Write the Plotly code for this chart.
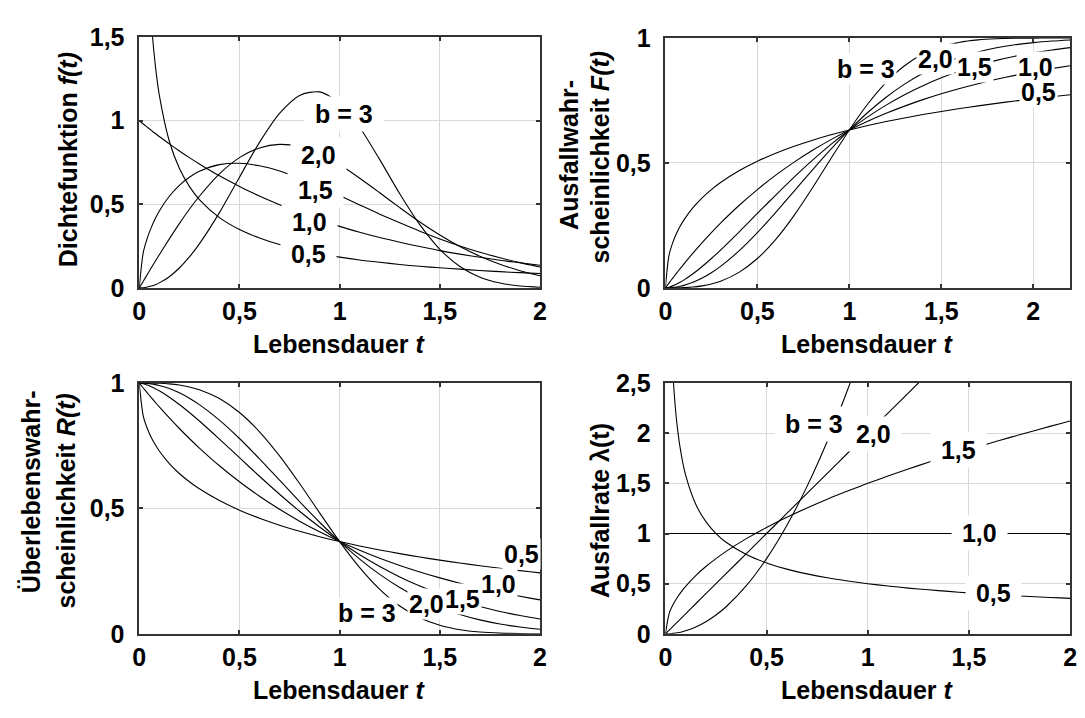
import plotly.graph_objects as go

W, H = 1085, 718
FONT = "Liberation Sans, Arial, sans-serif"

# ---------------- data (Weibull, T = 1) ----------------
T = [0, 0.02, 0.04, 0.06, 0.08, 0.1, 0.15, 0.2, 0.25, 0.3, 0.4, 0.5, 0.6, 0.7,
     0.8, 0.9, 1.0, 1.1, 1.2, 1.3, 1.4, 1.5, 1.6, 1.7, 1.8, 1.9, 2.0, 2.1, 2.2]

# density f(t)
DENS_B05 = [None, 3.069, 2.047, 1.598, 1.332, 1.153, 0.877, 0.715, 0.607, 0.528, 0.420, 0.349, 0.298, 0.259,
            0.229, 0.204, 0.184, 0.167, 0.153, 0.140, 0.129, 0.120, 0.112, 0.104, 0.097, 0.091, 0.086, 0.081, 0.077]
DENS_B10 = [1.0, 0.980, 0.961, 0.942, 0.923, 0.905, 0.861, 0.819, 0.779, 0.741, 0.670, 0.607, 0.549, 0.497,
            0.449, 0.407, 0.368, 0.333, 0.301, 0.273, 0.247, 0.223, 0.202, 0.183, 0.165, 0.150, 0.135, 0.122, 0.111]
DENS_B15 = [0.0, 0.212, 0.298, 0.362, 0.415, 0.460, 0.548, 0.613, 0.662, 0.697, 0.737, 0.745, 0.730, 0.699,
            0.656, 0.606, 0.552, 0.496, 0.441, 0.389, 0.339, 0.293, 0.251, 0.213, 0.180, 0.151, 0.125, 0.104, 0.085]
DENS_B20 = [0.0, 0.040, 0.080, 0.120, 0.159, 0.198, 0.293, 0.384, 0.470, 0.548, 0.682, 0.779, 0.837, 0.858,
            0.844, 0.801, 0.736, 0.656, 0.569, 0.480, 0.394, 0.316, 0.247, 0.189, 0.141, 0.103, 0.073, 0.051, 0.035]
DENS_B30 = [0.0, 0.001, 0.005, 0.011, 0.019, 0.030, 0.067, 0.119, 0.185, 0.263, 0.450, 0.662, 0.870, 1.043,
            1.151, 1.172, 1.104, 0.959, 0.767, 0.563, 0.378, 0.231, 0.128, 0.064, 0.029, 0.011, 0.004, 0.001, 0.000]

# failure probability F(t)
FAIL_B05 = [0.0, 0.1319, 0.1813, 0.2173, 0.2464, 0.2711, 0.3211, 0.3606, 0.3935, 0.4217, 0.4687, 0.5069, 0.5391, 0.5668,
            0.5912, 0.6128, 0.6321, 0.6496, 0.6656, 0.6802, 0.6937, 0.7062, 0.7177, 0.7285, 0.7386, 0.7480, 0.7569, 0.7652, 0.7731]
FAIL_B10 = [0.0, 0.0198, 0.0392, 0.0582, 0.0769, 0.0952, 0.1393, 0.1813, 0.2212, 0.2592, 0.3297, 0.3935, 0.4512, 0.5034,
            0.5507, 0.5934, 0.6321, 0.6671, 0.6988, 0.7275, 0.7534, 0.7769, 0.7981, 0.8173, 0.8347, 0.8504, 0.8647, 0.8775, 0.8892]
FAIL_B15 = [0.0, 0.0028, 0.0080, 0.0146, 0.0224, 0.0311, 0.0564, 0.0856, 0.1175, 0.1515, 0.2235, 0.2978, 0.3717, 0.4433,
            0.5111, 0.5742, 0.6321, 0.6845, 0.7314, 0.7729, 0.8092, 0.8407, 0.8679, 0.8910, 0.9106, 0.9271, 0.9409, 0.9523, 0.9617]
FAIL_B20 = [0.0, 0.0004, 0.0016, 0.0036, 0.0064, 0.0100, 0.0223, 0.0392, 0.0606, 0.0861, 0.1479, 0.2212, 0.3023, 0.3874,
            0.4727, 0.5551, 0.6321, 0.7018, 0.7631, 0.8155, 0.8591, 0.8946, 0.9227, 0.9444, 0.9608, 0.9730, 0.9817, 0.9878, 0.9921]
FAIL_B30 = [0.0, 0.0000, 0.0001, 0.0002, 0.0005, 0.0010, 0.0034, 0.0080, 0.0155, 0.0266, 0.0620, 0.1175, 0.1943, 0.2904,
            0.4007, 0.5176, 0.6321, 0.7358, 0.8224, 0.8889, 0.9357, 0.9658, 0.9834, 0.9927, 0.9971, 0.9990, 0.9997, 0.9999, 1.0000]

# survival probability R(t)
SURV_B05 = [1.0, 0.8681, 0.8187, 0.7827, 0.7536, 0.7289, 0.6789, 0.6394, 0.6065, 0.5783, 0.5313, 0.4931, 0.4609, 0.4332,
            0.4088, 0.3873, 0.3679, 0.3504, 0.3344, 0.3198, 0.3063, 0.2938, 0.2823, 0.2715, 0.2614, 0.2520, 0.2431, 0.2348, 0.2269]
SURV_B10 = [1.0, 0.9802, 0.9608, 0.9418, 0.9231, 0.9048, 0.8607, 0.8187, 0.7788, 0.7408, 0.6703, 0.6065, 0.5488, 0.4966,
            0.4493, 0.4066, 0.3679, 0.3329, 0.3012, 0.2725, 0.2466, 0.2231, 0.2019, 0.1827, 0.1653, 0.1496, 0.1353, 0.1225, 0.1108]
SURV_B15 = [1.0, 0.9972, 0.9920, 0.9854, 0.9776, 0.9689, 0.9436, 0.9144, 0.8825, 0.8485, 0.7765, 0.7022, 0.6283, 0.5567,
            0.4889, 0.4258, 0.3679, 0.3155, 0.2686, 0.2271, 0.1908, 0.1593, 0.1321, 0.1090, 0.0894, 0.0729, 0.0591, 0.0477, 0.0383]
SURV_B20 = [1.0, 0.9996, 0.9984, 0.9964, 0.9936, 0.9900, 0.9778, 0.9608, 0.9394, 0.9139, 0.8521, 0.7788, 0.6977, 0.6126,
            0.5273, 0.4449, 0.3679, 0.2982, 0.2369, 0.1845, 0.1409, 0.1054, 0.0773, 0.0556, 0.0392, 0.0271, 0.0183, 0.0122, 0.0079]
SURV_B30 = [1.0, 1.0000, 0.9999, 0.9998, 0.9995, 0.9990, 0.9966, 0.9920, 0.9845, 0.9734, 0.9380, 0.8825, 0.8057, 0.7096,
            0.5993, 0.4824, 0.3679, 0.2642, 0.1776, 0.1111, 0.0643, 0.0342, 0.0166, 0.0074, 0.0029, 0.0010, 0.0003, 0.0001, 0.0000]

# hazard rate lambda(t)
RATE_B05 = [None, 3.536, 2.500, 2.041, 1.768, 1.581, 1.291, 1.118, 1.000, 0.913, 0.791, 0.707, 0.645, 0.598,
            0.559, 0.527, 0.500, 0.477, 0.456, 0.439, 0.423, 0.408, 0.395, 0.383, 0.373, 0.363, 0.354, 0.345, 0.337]
RATE_B10 = [1.0, 1.0, 1.0, 1.0, 1.0, 1.0, 1.0, 1.0, 1.0, 1.0, 1.0, 1.0, 1.0, 1.0,
            1.0, 1.0, 1.0, 1.0, 1.0, 1.0, 1.0, 1.0, 1.0, 1.0, 1.0, 1.0, 1.0, 1.0, 1.0]
RATE_B15 = [0.0, 0.212, 0.300, 0.367, 0.424, 0.474, 0.581, 0.671, 0.750, 0.822, 0.949, 1.061, 1.162, 1.255,
            1.342, 1.423, 1.500, 1.573, 1.643, 1.710, 1.775, 1.837, 1.897, 1.956, 2.012, 2.068, 2.121, 2.174, 2.225]
RATE_B20 = [0.0, 0.04, 0.08, 0.12, 0.16, 0.2, 0.3, 0.4, 0.5, 0.6, 0.8, 1.0, 1.2, 1.4,
            1.6, 1.8, 2.0, 2.2, 2.4, 2.6, 2.8, 3.0, 3.2, 3.4, 3.6, 3.8, 4.0, 4.2, 4.4]
RATE_B30 = [0.0, 0.0012, 0.0048, 0.0108, 0.0192, 0.03, 0.0675, 0.12, 0.1875, 0.27, 0.48, 0.75, 1.08, 1.47,
            1.92, 2.43, 3.0, 3.63, 4.32, 5.07, 5.88, 6.75, 7.68, 8.67, 9.72, 10.83, 12.0, 13.23, 14.52]

CURVE_LABELS = ["0,5", "1,0", "1,5", "2,0", "b = 3"]

# label anchor points (t, value) per panel, same order as CURVE_LABELS
LABELS_DENS = [(0.845, 0.205), (0.852, 0.395), (0.877, 0.588), (0.895, 0.797), (1.02, 1.038)]
LABELS_FAIL = [(2.03, 0.782), (2.01, 0.885), (1.68, 0.885), (1.47, 0.917), (1.09, 0.876)]
LABELS_SURV = [(1.905, 0.32), (1.795, 0.20), (1.615, 0.138), (1.435, 0.119), (1.135, 0.083)]
LABELS_RATE = [(1.62, 0.405), (1.55, 1.006), (1.45, 1.83), (1.03, 1.995), (0.735, 2.09)]

X_TICKS = [0, 0.5, 1, 1.5, 2]
X_TICKTEXT = ["0", "0,5", "1", "1,5", "2"]
Y_TICKS_DENS = [0, 0.5, 1, 1.5]
Y_TICKTEXT_DENS = ["0", "0,5", "1", "1,5"]
Y_TICKS_PROB = [0, 0.5, 1]
Y_TICKTEXT_PROB = ["0", "0,5", "1"]
Y_TICKS_RATE = [0, 0.5, 1, 1.5, 2, 2.5]
Y_TICKTEXT_RATE = ["0", "0,5", "1", "1,5", "2", "2,5"]

# ---------------- figure ----------------
def fx(px):
    return px / W


def fy(py):
    return 1 - py / H


panels = [
    dict(ax="", xd=(134, 540), yd=(24, 285), xr=[0, 2], yr=[0, 1.5],
         yt=(Y_TICKS_DENS, Y_TICKTEXT_DENS), wide=True,
         series=[DENS_B05, DENS_B10, DENS_B15, DENS_B20, DENS_B30], labels=LABELS_DENS),
    dict(ax="2", xd=(667, 1077), yd=(25, 285), xr=[0, 2.2], yr=[0, 1],
         yt=(Y_TICKS_PROB, Y_TICKTEXT_PROB), wide=False,
         series=[FAIL_B05, FAIL_B10, FAIL_B15, FAIL_B20, FAIL_B30], labels=LABELS_FAIL),
    dict(ax="3", xd=(134, 540), yd=(384, 645), xr=[0, 2], yr=[0, 1],
         yt=(Y_TICKS_PROB, Y_TICKTEXT_PROB), wide=False,
         series=[SURV_B05, SURV_B10, SURV_B15, SURV_B20, SURV_B30], labels=LABELS_SURV),
    dict(ax="4", xd=(667, 1077), yd=(384, 645), xr=[0, 2], yr=[0, 2.5],
         yt=(Y_TICKS_RATE, Y_TICKTEXT_RATE), wide=True,
         series=[RATE_B05, RATE_B10, RATE_B15, RATE_B20, RATE_B30], labels=LABELS_RATE),
]

fig = go.Figure()
layout = {}
annotations = []

FS = 25
tickfont = dict(family=FONT, size=FS, color="black", weight="bold")
common_axis = dict(showgrid=True, gridcolor="#d9d9d9", gridwidth=1, zeroline=False,
                   showline=True, linecolor="#333333", linewidth=1.5, mirror="ticks",
                   ticks="inside", ticklen=4, tickcolor="#333333", tickwidth=1.5,
                   tickfont=tickfont, fixedrange=True)

for p in panels:
    xa = "x" + p["ax"]
    ya = "y" + p["ax"]
    for vals in p["series"]:
        fig.add_trace(go.Scatter(x=T, y=vals, mode="lines", xaxis=xa, yaxis=ya,
                                 line=dict(color="black", width=1.1, shape="spline", smoothing=0.8),
                                 hoverinfo="skip", showlegend=False, connectgaps=False))
    layout["xaxis" + p["ax"]] = dict(common_axis, domain=[fx(p["xd"][0]), fx(p["xd"][1])],
                                     range=p["xr"], tickvals=X_TICKS, ticktext=X_TICKTEXT,
                                     anchor=ya, ticklabelstandoff=0)
    layout["yaxis" + p["ax"]] = dict(common_axis, domain=[fy(p["yd"][1]), fy(p["yd"][0])],
                                     range=p["yr"], tickvals=p["yt"][0], ticktext=p["yt"][1],
                                     anchor=xa, ticklabelstandoff=8)
    for lab, (lx, ly) in zip(CURVE_LABELS, p["labels"]):
        txt = (" " + lab + " ") if p["wide"] else lab
        annotations.append(dict(x=lx, y=ly, xref=xa, yref=ya, text=txt, showarrow=False,
                                font=dict(family=FONT, size=FS, color="black", weight="bold"),
                                bgcolor="white", borderpad=3 if p["wide"] else 1,
                                xanchor="center", yanchor="middle"))

title_font = dict(family=FONT, size=FS, color="black", weight="bold")


def title(text, x, y, angle=0):
    annotations.append(dict(text=text, x=fx(x), y=fy(y), xref="paper", yref="paper",
                            showarrow=False, textangle=angle, font=title_font,
                            xanchor="center", yanchor="middle"))


# x titles
title("Lebensdauer <i>t</i>", 337, 343)
title("Lebensdauer <i>t</i>", 872, 343)
title("Lebensdauer <i>t</i>", 337, 703)
title("Lebensdauer <i>t</i>", 872, 703)
# y titles
title("Dichtefunktion <i>f(t)</i>", 62, 152, -90)
title("Ausfallwahr-", 570, 147, -90)
title("scheinlichkeit <i>F(t)</i>", 601, 149, -90)
title("Überlebenswahr-", 24, 497, -90)
title("scheinlichkeit <i>R(t)</i>", 60, 507, -90)
title("Ausfallrate λ(t)", 601, 517, -90)

fig.update_layout(**layout)
fig.update_layout(width=W, height=H, margin=dict(l=0, r=0, t=0, b=0),
                  paper_bgcolor="white", plot_bgcolor="white",
                  separators=", ", annotations=annotations, showlegend=False,
                  font=dict(family=FONT, color="black"))

fig.write_html("out.html")
